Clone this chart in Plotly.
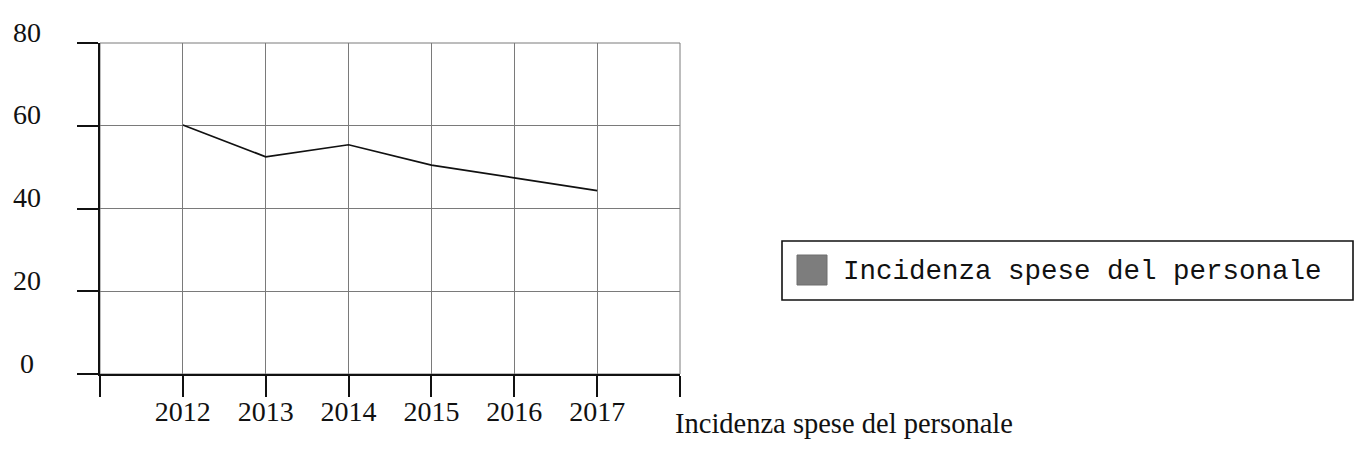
import plotly.graph_objects as go

# ---- data ----
years = [2012, 2013, 2014, 2015, 2016, 2017]
values = [60.2, 52.5, 55.4, 50.5, 47.4, 44.3]
series_name = "Incidenza spese del personale"
x_tick_vals = [2011, 2012, 2013, 2014, 2015, 2016, 2017, 2018]
x_tick_text = ["", "2012", "2013", "2014", "2015", "2016", "2017", ""]
y_tick_vals = [0, 20, 40, 60, 80]
y_tick_text = ["0", "20", "40", "60", "80"]

SERIF = "Liberation Serif, Times New Roman, serif"
MONO = "Liberation Mono, Courier New, monospace"
INK = "#111111"
GRID = "#7a7a7a"

fig = go.Figure()
fig.add_trace(go.Scatter(
    x=years, y=values, mode="lines", name=series_name,
    line=dict(color=INK, width=1.7), showlegend=False,
))

fig.update_xaxes(
    range=[x_tick_vals[0], x_tick_vals[-1]],
    tickmode="array", tickvals=x_tick_vals, ticktext=x_tick_text,
    ticks="outside", ticklen=21, tickwidth=2.2, tickcolor=INK,
    ticklabelstandoff=-9,
    showline=True, linecolor=INK, linewidth=1.6,
    showgrid=True, gridcolor=GRID, gridwidth=1,
    zeroline=False,
    tickfont=dict(family=SERIF, size=28, color=INK),
)
fig.update_yaxes(
    range=[y_tick_vals[0], y_tick_vals[-1]],
    tickmode="array", tickvals=y_tick_vals, ticktext=y_tick_text,
    showticklabels=False,
    ticks="outside", ticklen=21, tickwidth=2.2, tickcolor=INK,
    showline=True, linecolor=INK, linewidth=1.6,
    showgrid=True, gridcolor=GRID, gridwidth=1,
    zeroline=False,
)

annotations = []
# y tick labels, placed slightly above their ticks
for v, t in zip(y_tick_vals, y_tick_text):
    annotations.append(dict(
        xref="paper", yref="y", x=0, y=v, text=t, showarrow=False,
        xanchor="center", yanchor="middle", xshift=-73, yshift=11,
        font=dict(family=SERIF, size=28, color=INK),
    ))
# x axis title at the right end of the axis
annotations.append(dict(
    xref="paper", yref="paper", x=1, y=0, text=series_name, showarrow=False,
    xanchor="left", yanchor="top", xshift=-7, yshift=-32,
    font=dict(family=SERIF, size=28.5, color=INK),
))
# legend text
annotations.append(dict(
    xref="paper", yref="paper", x=1, y=0.5, text=series_name, showarrow=False,
    xanchor="left", yanchor="middle", xshift=161, yshift=-63,
    font=dict(family=MONO, size=27.5, color=INK),
))

shapes = [
    # top/right frame
    dict(type="rect", xref="x domain", yref="y domain", x0=0, x1=1, y0=0, y1=1,
         line=dict(color=GRID, width=1), layer="below"),
    # legend box
    dict(type="rect", xref="paper", yref="paper",
         x0=(782 - 100) / 580, x1=(1353 - 100) / 580,
         y0=(374 - 300) / 331, y1=(374 - 241) / 331,
         line=dict(color=INK, width=1.6), fillcolor="rgba(0,0,0,0)"),
    # legend swatch
    dict(type="rect", xref="paper", yref="paper",
         x0=(797 - 100) / 580, x1=(827 - 100) / 580,
         y0=(374 - 285) / 331, y1=(374 - 255) / 331,
         line=dict(color="#6f6f6f", width=1), fillcolor="#7d7d7d"),
]

# the page body has an 8px margin, so the figure is made 8px smaller
fig.update_layout(
    width=1356, height=453,
    margin=dict(l=92, r=684, t=35, b=87),
    paper_bgcolor="white", plot_bgcolor="white",
    annotations=annotations, shapes=shapes,
    showlegend=False,
)

fig.write_html("out.html")
